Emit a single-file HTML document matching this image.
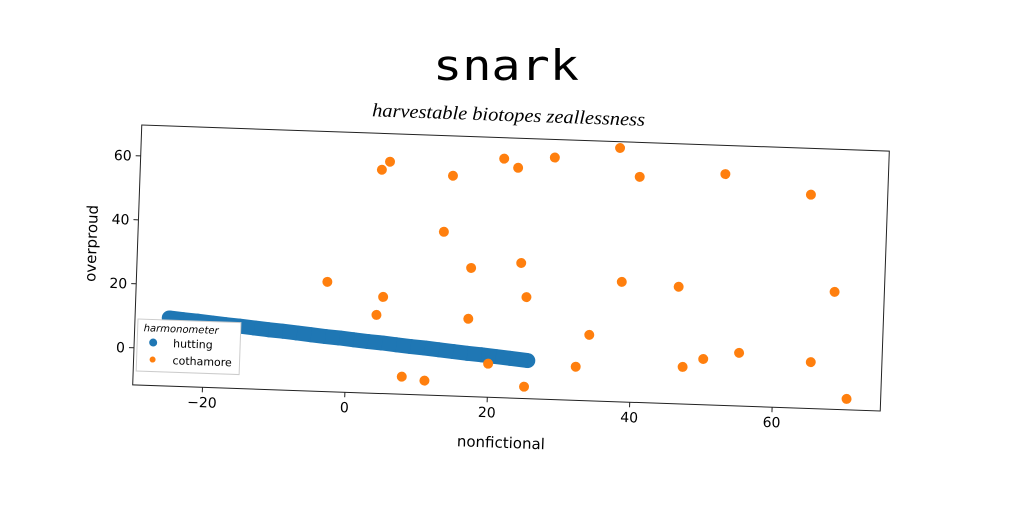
<!DOCTYPE html>
<html><head><meta charset="utf-8"><style>
html,body{margin:0;padding:0;background:#fff;}
svg{display:block;}
text{font-family:"DejaVu Sans","Liberation Sans",sans-serif;}
</style></head><body>
<svg id="chart" width="1024" height="512" viewBox="0 0 1024 512">
<rect width="1024" height="512" fill="#fff"/>
<text x="433" y="80" font-size="42" textLength="146" lengthAdjust="spacingAndGlyphs" style="font-family:'DejaVu Sans Mono',monospace">snark</text>
<text x="372" y="121" font-size="19" font-style="italic" textLength="273" lengthAdjust="spacingAndGlyphs" transform="rotate(2 507 117)" style="font-family:'Liberation Serif',serif">harvestable biotopes zeallessness</text>
<g id="plot" transform="rotate(2 511 268)">
<rect x="137" y="138" width="748" height="260" fill="#fff" stroke="#222" stroke-width="1"/>
<g id="ticks"></g>
<g id="marks"></g>
<text x="507" y="448" text-anchor="middle" font-size="15">nonfictional</text>
<text x="96" y="258" text-anchor="middle" font-size="15" transform="rotate(-90 96 258)">overproud</text>
<g>
<rect x="140" y="332" width="103" height="52" fill="#fff" stroke="#ccc"/>
<text x="146" y="344" font-size="10" font-style="italic">harmonometer</text>
<circle cx="156" cy="355" r="4" fill="#1f77b4"/>
<text x="176" y="359" font-size="11">hutting</text>
<circle cx="156" cy="372" r="3" fill="#ff7f0e"/>
<text x="176" y="376" font-size="11">cothamore</text>
</g>
</g>
</svg>
<script>
const xTicks=[-20,0,20,40,60];
const yTicks=[0,20,40,60];
const blueX=[-25,-23,-21,-19,-17,-15,-13,-11,-9,-7,-5,-3,-1,1,3,5,7,9,11,13,15,17,19,21,23,25.5];
const blueY=[9.7,9.3,9.0,8.6,8.2,7.9,7.5,7.1,6.8,6.4,6.0,5.6,5.3,4.9,4.5,4.2,3.8,3.4,3.1,2.7,2.3,1.9,1.6,1.2,0.8,0.3];
const orangeX=[4.1,5.2,14.1,21.2,23.2,28.3,37.4,40.3,52.3,64.4,13.1,17.1,24.1,-3.0,4.9,25.0,38.3,46.3,68.2,4.05,16.95,34.0,19.95,7.9,11.1,25.1,32.25,47.25,50.1,55.1,65.2,70.4];
const orangeY=[58.3,60.9,57.2,63.1,60.4,64.0,67.7,58.9,60.7,55.2,39.6,28.6,30.7,22.7,18.6,20.1,25.9,25.0,25.1,12.9,12.7,9.0,-1.1,-6.1,-7.1,-7.9,-1.1,0.0,2.7,5.0,2.9,-8.2];
const NS="http://www.w3.org/2000/svg";
function sx(v){return 137+(v+29.8)*7.125;}
function sy(v){return 398-(v+11.6)*3.2;}
const ticks=document.getElementById('ticks');
const marks=document.getElementById('marks');
xTicks.forEach(t=>{
  const l=document.createElementNS(NS,'line');
  l.setAttribute('x1',sx(t));l.setAttribute('x2',sx(t));l.setAttribute('y1',398);l.setAttribute('y2',403);l.setAttribute('stroke','#222');
  
  
  ticks.appendChild(l);
  const tx=document.createElementNS(NS,'text');
  tx.setAttribute('x',sx(t));tx.setAttribute('y',418);tx.setAttribute('text-anchor','middle');tx.setAttribute('font-size','14');
  tx.textContent=t<0?'\u2212'+Math.abs(t):t;
  
  
  ticks.appendChild(tx);
});
yTicks.forEach(t=>{
  const l=document.createElementNS(NS,'line');
  l.setAttribute('x1',132);l.setAttribute('x2',137);l.setAttribute('y1',sy(t));l.setAttribute('y2',sy(t));l.setAttribute('stroke','#222');
  
  
  ticks.appendChild(l);
  const tx=document.createElementNS(NS,'text');
  tx.setAttribute('x',128);tx.setAttribute('y',sy(t)+5);tx.setAttribute('text-anchor','end');tx.setAttribute('font-size','14');
  tx.textContent=t;
  
  
  ticks.appendChild(tx);
});
blueX.forEach((x,i)=>{
  const c=document.createElementNS(NS,'circle');
  c.setAttribute('cx',sx(x));c.setAttribute('cy',sy(blueY[i]));c.setAttribute('r',7.5);c.setAttribute('fill','#1f77b4');
  
  
  marks.appendChild(c);
});
for(let i=0;i<blueX.length-1;i++){
  const l=document.createElementNS(NS,'line');
  l.setAttribute('x1',sx(blueX[i]));l.setAttribute('y1',sy(blueY[i]));l.setAttribute('x2',sx(blueX[i+1]));l.setAttribute('y2',sy(blueY[i+1]));
  l.setAttribute('stroke','#1f77b4');l.setAttribute('stroke-width',15);
  
  
  marks.appendChild(l);
}
orangeX.forEach((x,i)=>{
  const c=document.createElementNS(NS,'circle');
  c.setAttribute('cx',sx(x));c.setAttribute('cy',sy(orangeY[i]));c.setAttribute('r',5);c.setAttribute('fill','#ff7f0e');
  
  
  marks.appendChild(c);
});
</script>
</body></html>
